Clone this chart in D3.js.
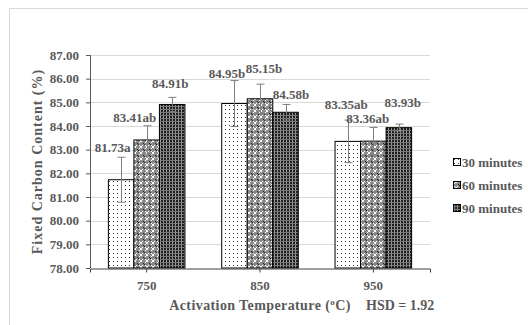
<!DOCTYPE html>
<html>
<head>
<meta charset="utf-8">
<script src="https://cdn.jsdelivr.net/npm/d3@7"></script>
<style>
  body { margin: 0; background: #fff; }
  text { font-family: "Liberation Serif", "Times New Roman", serif; font-weight: bold; fill: #595959; }
</style>
</head>
<body>
<div id="chart"></div>
<script>
// Fixed carbon content bar chart

const WIDTH = 528
const HEIGHT = 325

const temperatures = ["750", "850", "950"]
const seriesNames = ["30 minutes", "60 minutes", "90 minutes"]
const values30 = [81.73, 84.95, 83.35]
const values60 = [83.41, 85.15, 83.36]
const values90 = [84.91, 84.58, 83.93]
const errors30 = [0.95, 0.97, 0.90]
const errors60 = [0.60, 0.62, 0.58]
const errors90 = [0.30, 0.33, 0.15]
const letters30 = ["a", "b", "ab"]
const letters60 = ["ab", "b", "ab"]
const letters90 = ["b", "b", "b"]
const yTicks = [78, 79, 80, 81, 82, 83, 84, 85, 86, 87]

// label nudges (px) relative to bar centre / error cap
const labelDx = [[-8.5, -7.5, -1.5], [-12, 4, -5.5], [-2, 5.5, 4]]
const labelDy = [[5.5, 2.2, 10.8], [4, 11.4, 4.7], [9, 5.1, 16.8]]

const MARGIN = { top: 55, bot: 57, left: 90, right: 98 }

const SVG = d3.select("#chart")
  .append("svg")
  .attr("width", WIDTH)
  .attr("height", HEIGHT)

// outer frame
SVG.append("rect")
  .attr("x", 9.5).attr("y", 8.5)
  .attr("width", 540).attr("height", 340)
  .attr("fill", "none")
  .attr("stroke", "#d9d9d9")

// patterns
const defs = SVG.append("defs")

const p30 = defs.append("pattern").attr("id", "pat-30")
  .attr("patternUnits", "userSpaceOnUse").attr("width", 4).attr("height", 4)
p30.append("rect").attr("width", 4).attr("height", 4).attr("fill", "#fff")
p30.append("rect").attr("x", 1).attr("y", 1).attr("width", 1).attr("height", 1).attr("fill", "#333")

const p60 = defs.append("pattern").attr("id", "pat-60")
  .attr("patternUnits", "userSpaceOnUse").attr("width", 6).attr("height", 6)
p60.append("rect").attr("width", 6).attr("height", 6).attr("fill", "#8a8a8a")
p60.append("path").attr("d", "M1,1h1v1h-1zM3,3h1v1h-1zM1,4h1v1h-1zM4,1h1v1h-1zM2,2h2v2h-2z").attr("fill", "#fff")
p60.append("path").attr("d", "M0,0h1v1h-1zM5,5h1v1h-1z").attr("fill", "#222")

const p90 = defs.append("pattern").attr("id", "pat-90")
  .attr("patternUnits", "userSpaceOnUse").attr("width", 3).attr("height", 3)
p90.append("rect").attr("width", 3).attr("height", 3).attr("fill", "#1e1e1e")
p90.append("rect").attr("x", 1).attr("width", 1).attr("height", 3).attr("fill", "#9a9a9a")
p90.append("rect").attr("y", 1).attr("width", 3).attr("height", 1).attr("fill", "#7a7a7a")

const patternIds = ["pat-30", "pat-60", "pat-90"]

// scales
const x0 = d3.scaleBand()
  .domain(temperatures)
  .range([MARGIN.left, WIDTH - MARGIN.right])

const x1 = d3.scaleBand()
  .domain(seriesNames)
  .range([0, x0.bandwidth()])
  .paddingInner(0)
  .paddingOuter(0.72)

const y = d3.scaleLinear()
  .domain([78, 87])
  .range([HEIGHT - MARGIN.bot, MARGIN.top])

// gridlines
SVG.append("g")
  .selectAll("line")
  .data(yTicks.slice(1))
  .join("line")
  .attr("x1", MARGIN.left).attr("x2", WIDTH - MARGIN.right)
  .attr("y1", d => Math.round(y(d)) + 0.5).attr("y2", d => Math.round(y(d)) + 0.5)
  .attr("stroke", "#d9d9d9")

// data table
const rows = [values30, values60, values90].map((vals, s) => vals.map((v, c) => ({
  series: seriesNames[s],
  s: s,
  c: c,
  temp: temperatures[c],
  value: v,
  err: [errors30, errors60, errors90][s][c],
  letter: [letters30, letters60, letters90][s][c]
}))).flat()

// bars
SVG.append("g")
  .selectAll("rect")
  .data(rows)
  .join("rect")
  .attr("x", d => x0(d.temp) + x1(d.series))
  .attr("y", d => y(d.value))
  .attr("width", x1.bandwidth())
  .attr("height", d => y(78) - y(d.value))
  .attr("fill", d => `url(#${patternIds[d.s]})`)
  .attr("stroke", "#000")
  .attr("stroke-width", 1)

// error bars
const errG = SVG.append("g").attr("stroke", "#7f7f7f").attr("stroke-width", 1)
rows.forEach(d => {
  const cx = Math.round(x0(d.temp) + x1(d.series) + x1.bandwidth() / 2) + 0.5
  const top = y(d.value + d.err)
  const bot = y(d.value - d.err)
  errG.append("line").attr("x1", cx).attr("x2", cx).attr("y1", top).attr("y2", bot)
  errG.append("line").attr("x1", cx - 4).attr("x2", cx + 4).attr("y1", top).attr("y2", top)
  errG.append("line").attr("x1", cx - 4).attr("x2", cx + 4).attr("y1", bot).attr("y2", bot)
})

// value labels
SVG.append("g")
  .selectAll("text")
  .data(rows)
  .join("text")
  .text(d => d.value.toFixed(2) + d.letter)
  .attr("x", d => x0(d.temp) + x1(d.series) + x1.bandwidth() / 2 + labelDx[d.s][d.c])
  .attr("y", d => y(d.value + d.err) - labelDy[d.s][d.c])
  .attr("text-anchor", "middle")
  .attr("font-size", 13)

// axes
const yAxis = d3.axisLeft(y)
  .tickValues(yTicks)
  .tickSize(4)
  .tickPadding(7)
  .tickFormat(d3.format(".2f"))

const yG = SVG.append("g")
  .attr("transform", `translate(${MARGIN.left}, 0)`)
  .call(yAxis)
yG.select(".domain").attr("stroke", "#595959").attr("d", `M0.5,${y(87)}V${y(78)}`)
yG.selectAll(".tick line").attr("stroke", "#595959")
yG.selectAll("text").attr("font-size", 13).attr("font-family", null).attr("fill", null)

const xAxis = d3.axisBottom(x0)
  .tickSize(4)
  .tickPadding(8)
  .tickSizeOuter(4)

const xG = SVG.append("g")
  .attr("transform", `translate(0, ${Math.round(y(78)) + 0.5})`)
  .call(xAxis)
xG.select(".domain").attr("stroke", "#404040")
xG.selectAll(".tick line").attr("stroke", "#404040")
xG.selectAll("text").attr("font-size", 13).attr("font-family", null).attr("fill", null)

// axis titles
SVG.append("text")
  .attr("transform", `translate(42, ${(y(78) + y(87)) / 2}) rotate(-90)`)
  .attr("text-anchor", "middle")
  .attr("font-size", 14)
  .attr("letter-spacing", 1)
  .text("Fixed Carbon Content (%)")

const xTitle = SVG.append("text")
  .attr("x", 260)
  .attr("y", 310)
  .attr("text-anchor", "middle")
  .attr("font-size", 14)
  .attr("letter-spacing", 0.4)
xTitle.append("tspan").text("Activation Temperature (")
xTitle.append("tspan").attr("font-size", 9).attr("dy", -5).text("o")
xTitle.append("tspan").attr("dy", 5).text("C)")

SVG.append("text")
  .attr("x", 366)
  .attr("y", 310)
  .attr("font-size", 14)
  .text("HSD = 1.92")

// legend
const legend = SVG.append("g")
  .selectAll("g")
  .data(seriesNames)
  .join("g")
  .attr("transform", (d, i) => `translate(453, ${162 + 23 * i})`)

legend.append("rect")
  .attr("x", 0.5).attr("y", -3.5)
  .attr("width", 7).attr("height", 7)
  .attr("fill", (d, i) => `url(#${patternIds[i]})`)
  .attr("stroke", "#000")

legend.append("text")
  .attr("x", 9)
  .attr("y", 4.5)
  .attr("font-size", 13)
  .text(d => d)
</script>
</body>
</html>
